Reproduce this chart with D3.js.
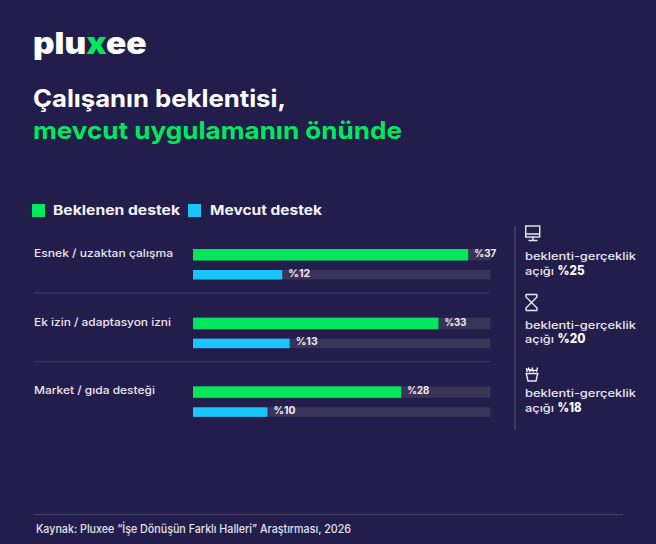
<!DOCTYPE html>
<html lang="tr"><head><meta charset="utf-8">
<script src="https://cdn.jsdelivr.net/npm/d3@7/dist/d3.min.js"></script>
<style>html,body{margin:0;padding:0;background:#231d4b}svg{display:block}text{font-family:Inter,"DejaVu Sans",sans-serif}</style>
</head><body><svg id="c" width="656" height="544"></svg>
<script>
const categories = ["Esnek / uzaktan çalışma", "Ek izin / adaptasyon izni", "Market / gıda desteği"];
const expected = [37, 33, 28];
const current = [12, 13, 10];
const gaps = [25, 20, 18];
const seriesNames = ["Beklenen destek", "Mevcut destek"];
const axisMax = 40;
const BG="#231d4b",GREEN="#00e65f",BLUE="#19c6fa",TRACK="#3a3558",WHITE="#f4f2f8",LINE="#3f3a5e";
const svg=d3.select("#c");
svg.append("rect").attr("width",656).attr("height",544).attr("fill",BG);
function T(x,y,s,size,w,fill,len,p){
  const t=(p||svg).append("text").attr("x",x).attr("y",y).attr("font-size",size).attr("font-weight",w).attr("fill",fill).text(s);
  if(len) t.attr("textLength",len).attr("lengthAdjust","spacingAndGlyphs");
  return t;
}
// logo
const logo=T(33,53.5,"",30,900,"#fff",113.5);
logo.append("tspan").text("plu");
logo.append("tspan").attr("fill",GREEN).text("x");
logo.append("tspan").text("ee");
// title
T(33,107,"Çalışanın beklentisi,",24,700,"#fff",253);
T(33,138.5,"mevcut uygulamanın önünde",24,700,GREEN,369);
// legend
svg.append("rect").attr("x",32).attr("y",204).attr("width",13).attr("height",13).attr("fill",GREEN);
T(53,215,seriesNames[0],13,700,WHITE,127);
svg.append("rect").attr("x",188).attr("y",204).attr("width",13).attr("height",13).attr("fill",BLUE);
T(210,215,seriesNames[1],13,700,WHITE,112);
// scales
const x=d3.scaleLinear().domain([0,axisMax]).range([193,490.5]);
const y=d3.scaleBand().domain(categories).range([249,455]);
const rows=svg.selectAll("g.row").data(categories).join("g").attr("class","row").attr("transform",d=>`translate(0,${y(d)})`);
rows.each(function(d,i){
  const g=d3.select(this);
  T(34,8,d,10.8,500,"#e9e7f0",i==0?139:i==1?137:121,g);
  [[expected[i],GREEN,0,11.5],[current[i],BLUE,21,9.5]].forEach(([v,c,dy,h])=>{
    g.append("rect").attr("x",x(0)).attr("y",dy).attr("width",x(axisMax)-x(0)).attr("height",h).attr("fill",TRACK);
    g.append("rect").attr("x",x(0)).attr("y",dy).attr("width",x(v)-x(0)).attr("height",h).attr("fill",c);
    T(x(v)+6,dy+(c==GREEN?8:6.5),"%"+v,10,700,"#eeecf4",22,g);
  });
  if(i<2) g.append("line").attr("x1",34).attr("x2",490).attr("y1",44).attr("y2",44).attr("stroke",LINE);
});
// right panel
svg.append("line").attr("x1",515).attr("x2",515).attr("y1",226).attr("y2",430).attr("stroke","#4a4668").attr("stroke-width",1.3);
const panelY=[260,328.7,397.3];
gaps.forEach((g,i)=>{
  T(525,panelY[i],"beklenti-gerçeklik",10.8,500,"#e9e7f0",111);
  T(525,panelY[i]+14.5,"açığı",10.8,500,"#e9e7f0",29);
  T(557.5,panelY[i]+14.5,"%"+g,12.5,800,"#fff",i==2?24:i==1?28:27);
});
const ic=svg.append("g").attr("fill","none").attr("stroke","#ece9f4").attr("stroke-width",1.4);
// monitor
ic.append("rect").attr("x",525.7).attr("y",226).attr("width",14).attr("height",11);
ic.append("path").attr("d","M526 234H540M533 237V240.5M528.5 240.5H537.5");
// hourglass
ic.append("path").attr("d","M525.7 294.5H537.3M525.7 310.5H537.3M526 294.5V297L537 308V310.5M537 294.5V297L526 308V310.5");
// basket
ic.append("path").attr("d","M525.5 373.5H538.5M526.3 373.5L528 381H536L537.7 373.5M527 372L526.5 368M530 372L528.5 367.5M533.5 372L532 367.5M536.5 372L537.5 367.5M527.5 369.5L537.5 370.5");
// footer
svg.append("line").attr("x1",34).attr("x2",623).attr("y1",514.5).attr("y2",514.5).attr("stroke","#46415f");
T(36,533,"Kaynak: Pluxee “İşe Dönüşün Farklı Halleri” Araştırması, 2026",11.5,500,"#e6e4ee",315);
</script></body></html>
